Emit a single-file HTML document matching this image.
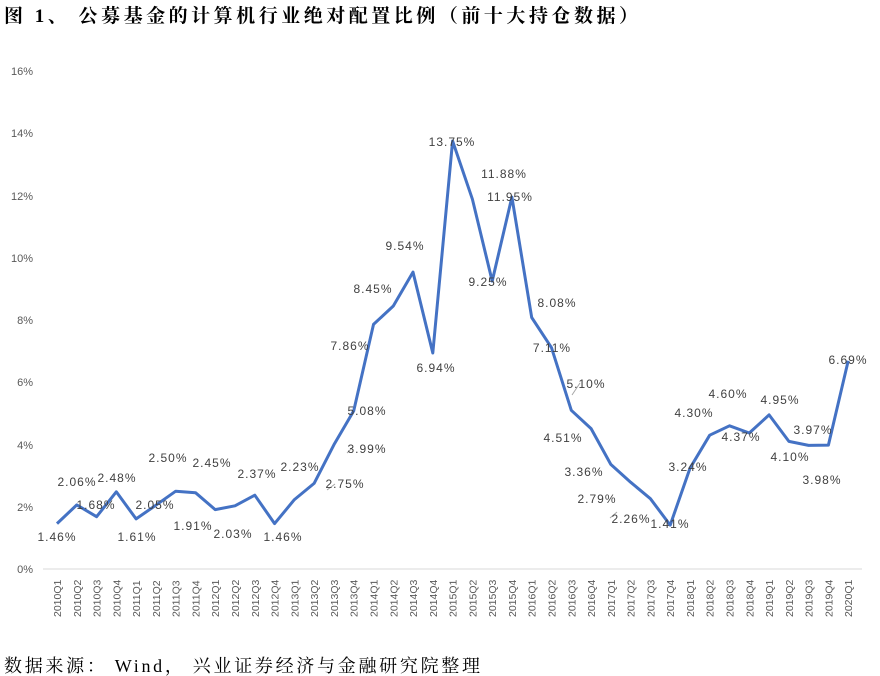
<!DOCTYPE html>
<html><head><meta charset="utf-8"><style>
body{margin:0;background:#fff;width:880px;height:676px;overflow:hidden}
svg{display:block}
.t{font-family:"Liberation Serif","Noto Serif CJK SC",serif}
.ax{font-family:"Liberation Sans",sans-serif;font-size:11px;fill:#595959}
.xl{font-family:"Liberation Sans",sans-serif;font-size:10.5px;fill:#595959;text-anchor:start}
.lb{font-family:"Liberation Sans",sans-serif;font-size:12px;fill:#404040;letter-spacing:1px;text-anchor:middle}
</style></head><body>
<svg width="880" height="676" xmlns="http://www.w3.org/2000/svg">
<text class="t" x="4" y="22" font-size="19" font-weight="bold" fill="#000" textLength="634" lengthAdjust="spacing">图 1、 公募基金的计算机行业绝对配置比例（前十大持仓数据）</text>
<g class="ax" text-anchor="end">
<text x="33" y="573">0%</text><text x="33" y="511">2%</text><text x="33" y="449">4%</text><text x="33" y="386">6%</text><text x="33" y="324">8%</text><text x="33" y="262">10%</text><text x="33" y="200">12%</text><text x="33" y="137">14%</text><text x="33" y="75">16%</text>
</g>
<line x1="43" y1="569" x2="862" y2="569" stroke="#d9d9d9" stroke-width="1"/>
<g class="xl">
<text transform="translate(61,617) rotate(-90)">2010Q1</text>
<text transform="translate(80.8,617) rotate(-90)">2010Q2</text>
<text transform="translate(100.6,617) rotate(-90)">2010Q3</text>
<text transform="translate(120.3,617) rotate(-90)">2010Q4</text>
<text transform="translate(140.1,617) rotate(-90)">2011Q1</text>
<text transform="translate(159.9,617) rotate(-90)">2011Q2</text>
<text transform="translate(179.7,617) rotate(-90)">2011Q3</text>
<text transform="translate(199.5,617) rotate(-90)">2011Q4</text>
<text transform="translate(219.2,617) rotate(-90)">2012Q1</text>
<text transform="translate(239,617) rotate(-90)">2012Q2</text>
<text transform="translate(258.8,617) rotate(-90)">2012Q3</text>
<text transform="translate(278.6,617) rotate(-90)">2012Q4</text>
<text transform="translate(298.4,617) rotate(-90)">2013Q1</text>
<text transform="translate(318.1,617) rotate(-90)">2013Q2</text>
<text transform="translate(337.9,617) rotate(-90)">2013Q3</text>
<text transform="translate(357.7,617) rotate(-90)">2013Q4</text>
<text transform="translate(377.5,617) rotate(-90)">2014Q1</text>
<text transform="translate(397.3,617) rotate(-90)">2014Q2</text>
<text transform="translate(417,617) rotate(-90)">2014Q3</text>
<text transform="translate(436.8,617) rotate(-90)">2014Q4</text>
<text transform="translate(456.6,617) rotate(-90)">2015Q1</text>
<text transform="translate(476.4,617) rotate(-90)">2015Q2</text>
<text transform="translate(496.2,617) rotate(-90)">2015Q3</text>
<text transform="translate(515.9,617) rotate(-90)">2015Q4</text>
<text transform="translate(535.7,617) rotate(-90)">2016Q1</text>
<text transform="translate(555.5,617) rotate(-90)">2016Q2</text>
<text transform="translate(575.3,617) rotate(-90)">2016Q3</text>
<text transform="translate(595.1,617) rotate(-90)">2016Q4</text>
<text transform="translate(614.8,617) rotate(-90)">2017Q1</text>
<text transform="translate(634.6,617) rotate(-90)">2017Q2</text>
<text transform="translate(654.4,617) rotate(-90)">2017Q3</text>
<text transform="translate(674.2,617) rotate(-90)">2017Q4</text>
<text transform="translate(694,617) rotate(-90)">2018Q1</text>
<text transform="translate(713.7,617) rotate(-90)">2018Q2</text>
<text transform="translate(733.5,617) rotate(-90)">2018Q3</text>
<text transform="translate(753.3,617) rotate(-90)">2018Q4</text>
<text transform="translate(773.1,617) rotate(-90)">2019Q1</text>
<text transform="translate(792.9,617) rotate(-90)">2019Q2</text>
<text transform="translate(812.6,617) rotate(-90)">2019Q3</text>
<text transform="translate(832.4,617) rotate(-90)">2019Q4</text>
<text transform="translate(852.2,617) rotate(-90)">2020Q1</text>
</g>
<polyline fill="none" stroke="#4472c4" stroke-width="3" stroke-linejoin="round" points="57,523.6 76.8,504.9 96.6,516.7 116.3,491.8 136.1,518.9 155.9,505.2 175.7,491.2 195.5,492.7 215.2,509.6 235,505.8 254.8,495.2 274.6,523.6 294.4,499.6 314.1,483.4 333.9,444.8 353.7,410.9 373.5,324.4 393.3,306 413,272.1 432.8,353 452.6,141 472.4,199.2 492.2,281.1 511.9,197.1 531.7,317.5 551.5,347.7 571.3,410.3 591.1,428.6 610.8,464.4 630.6,482.2 650.4,498.7 670.2,525.1 690,468.2 709.7,435.2 729.5,425.8 749.3,433 769.1,414.9 788.9,441.4 808.6,445.4 828.4,445.1 848.2,360.8"/>
<g stroke="#a6a6a6" stroke-width="1">
<line x1="335" y1="484" x2="327" y2="490"/><line x1="353" y1="447" x2="347" y2="453"/><line x1="580" y1="383" x2="572" y2="395"/><line x1="617" y1="512" x2="610" y2="518"/>
</g>
<g class="lb">
<text x="57" y="541">1.46%</text><text x="77" y="486">2.06%</text><text x="96" y="509">1.68%</text><text x="117" y="482">2.48%</text><text x="137" y="541">1.61%</text><text x="155" y="509">2.05%</text><text x="168" y="462">2.50%</text><text x="212" y="467">2.45%</text><text x="193" y="530">1.91%</text><text x="233" y="538">2.03%</text><text x="257" y="478">2.37%</text><text x="283" y="541">1.46%</text><text x="300" y="471">2.23%</text><text x="345" y="488">2.75%</text><text x="367" y="453">3.99%</text><text x="367" y="415">5.08%</text><text x="350" y="350">7.86%</text><text x="373" y="293">8.45%</text><text x="405" y="250">9.54%</text><text x="436" y="372">6.94%</text><text x="452" y="146">13.75%</text><text x="504" y="178">11.88%</text><text x="488" y="286">9.25%</text><text x="510" y="201">11.95%</text><text x="557" y="307">8.08%</text><text x="552" y="352">7.11%</text><text x="586" y="388">5.10%</text><text x="563" y="442">4.51%</text><text x="584" y="476">3.36%</text><text x="597" y="503">2.79%</text><text x="631" y="523">2.26%</text><text x="670" y="528">1.41%</text><text x="688" y="471">3.24%</text><text x="694" y="417">4.30%</text><text x="728" y="398">4.60%</text><text x="741" y="441">4.37%</text><text x="780" y="404">4.95%</text><text x="790" y="461">4.10%</text><text x="813" y="434">3.97%</text><text x="822" y="484">3.98%</text><text x="848" y="364">6.69%</text>
</g>
<text class="t" x="4" y="672" font-size="18" fill="#000" textLength="476" lengthAdjust="spacing">数据来源： Wind， 兴业证券经济与金融研究院整理</text>
</svg>
</body></html>
